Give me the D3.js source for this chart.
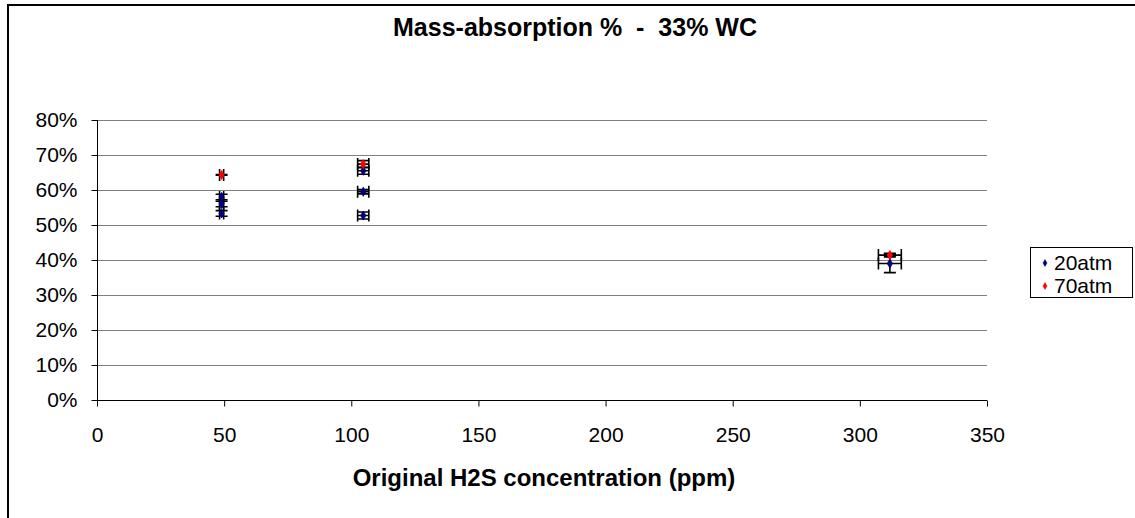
<!DOCTYPE html>
<html>
<head>
<meta charset="utf-8">
<script src="https://cdn.jsdelivr.net/npm/d3@7"></script>
<style>
  html, body { margin: 0; padding: 0; background: #fff; }
  svg { display: block; font-family: "Liberation Sans", Arial, sans-serif; }
</style>
</head>
<body>
<svg id="chart" width="1135" height="518"></svg>
<script>
// ---- data ----
const seriesNames = ["20atm", "70atm"];
const seriesColors = ["#000080", "#FF0000"];

const x20 = [49, 49, 49, 104.7, 104.7, 104.7, 311.8];
const y20 = [58.0, 56.0, 53.3, 65.5, 59.5, 52.7, 39.0];
const xErr20 = [0.8, 0.8, 0.8, 2.2, 2.2, 2.2, 4.5];
const yErr20 = [0.8, 0.8, 0.8, 1.0, 0.6, 1.0, 2.6];

const x70 = [49, 104.7, 311.8];
const y70 = [64.3, 67.4, 41.4];
const xErr70 = [0.8, 2.2, 4.5];
const yErr70 = [0.1, 1.0, 0.5];

const xTicks = [0, 50, 100, 150, 200, 250, 300, 350];
const yTicks = [0, 10, 20, 30, 40, 50, 60, 70, 80];

const titleText = "Mass-absorption %  -  33% WC";
const xLabelText = "Original H2S concentration (ppm)";

// ---- layout ----
const svg = d3.select("#chart");
const plot = { left: 97, right: 987, top: 120, bottom: 400 };

const x = d3.scaleLinear().domain([0, 350]).range([plot.left, plot.right]);
const y = d3.scaleLinear().domain([0, 80]).range([plot.bottom, plot.top]);

// outer frame (extends beyond the image on right & bottom)
svg.append("rect")
  .attr("x", 8).attr("y", 5).attr("width", 1400).attr("height", 800)
  .attr("fill", "#fff").attr("stroke", "#000").attr("stroke-width", 2);

// title
svg.append("text")
  .attr("x", 575).attr("y", 36)
  .attr("text-anchor", "middle")
  .attr("font-size", 25).attr("font-weight", "bold")
  .style("white-space", "pre")
  .text(titleText);

// gridlines
svg.append("g").selectAll("line")
  .data(yTicks.filter(d => d > 0))
  .join("line")
  .attr("x1", plot.left).attr("x2", plot.right)
  .attr("y1", d => Math.round(y(d)) + 0.5).attr("y2", d => Math.round(y(d)) + 0.5)
  .attr("stroke", "#808080").attr("stroke-width", 1);

// axes
const yAxis = d3.axisLeft(y).tickValues(yTicks).tickFormat(d => d + "%").tickSize(6).tickPadding(14);
const gy = svg.append("g").attr("transform", `translate(${plot.left + 0.5},0)`).call(yAxis);
gy.select(".domain").attr("stroke", "#000").attr("d", `M0,${plot.top}V${plot.bottom}`);
gy.selectAll(".tick line").attr("stroke", "#000");
gy.selectAll("text").attr("font-size", 21).attr("fill", "#000").attr("font-family", "Liberation Sans, Arial, sans-serif");

const xAxis = d3.axisBottom(x).tickValues(xTicks).tickSize(6).tickPadding(21);
const gx = svg.append("g").attr("transform", `translate(0,${plot.bottom + 0.5})`).call(xAxis);
gx.select(".domain").attr("stroke", "#000").attr("d", `M${plot.left},0H${plot.right}`);
gx.selectAll(".tick line").attr("stroke", "#000");
gx.selectAll("text").attr("font-size", 21).attr("fill", "#000").attr("font-family", "Liberation Sans, Arial, sans-serif");

// x axis label
svg.append("text")
  .attr("x", 544).attr("y", 486)
  .attr("text-anchor", "middle")
  .attr("font-size", 24).attr("font-weight", "bold")
  .text(xLabelText);

// ---- data series ----
const series = [
  { name: seriesNames[0], color: seriesColors[0], xs: x20, ys: y20, ex: xErr20, ey: yErr20 },
  { name: seriesNames[1], color: seriesColors[1], xs: x70, ys: y70, ex: xErr70, ey: yErr70 }
];
const cap = 6;
const errG = svg.append("g").attr("stroke", "#000").attr("stroke-width", 1.6).attr("fill", "none");
series.forEach(s => {
  s.xs.forEach((xv, i) => {
    const cx = x(xv), cy = y(s.ys[i]);
    const yl = y(s.ys[i] - s.ey[i]), yh = y(s.ys[i] + s.ey[i]);
    const xl = x(xv - s.ex[i]), xh = x(xv + s.ex[i]);
    errG.append("path").attr("d",
      `M${cx},${yl}V${yh}M${cx - cap},${yl}H${cx + cap}M${cx - cap},${yh}H${cx + cap}`);
    errG.append("path").attr("d",
      `M${xl},${cy}H${xh}M${xl},${cy - cap}V${cy + cap}M${xh},${cy - cap}V${cy + cap}`);
  });
});
const diamond = d3.symbol().type(d3.symbolDiamond).size(24);
series.forEach(s => {
  svg.append("g").selectAll("path")
    .data(s.xs.map((xv, i) => [xv, s.ys[i]]))
    .join("path")
    .attr("d", diamond)
    .attr("transform", d => `translate(${x(d[0])},${y(d[1])})`)
    .attr("fill", s.color).attr("stroke", s.color).attr("stroke-width", 0.8);
});

// ---- legend ----
const lg = svg.append("g");
lg.append("rect").attr("x", 1030.5).attr("y", 247.5).attr("width", 102).attr("height", 50)
  .attr("fill", "#fff").attr("stroke", "#000").attr("stroke-width", 1);
const lItems = lg.selectAll("g.item").data(series).join("g").attr("class", "item")
  .attr("transform", (d, i) => `translate(1045,${263 + i * 23})`);
lItems.append("path").attr("d", d3.symbol().type(d3.symbolDiamond).size(14))
  .attr("fill", d => d.color).attr("stroke", d => d.color).attr("stroke-width", 0.5);
lItems.append("text").attr("x", 9).attr("y", 7).attr("font-size", 21)
  .text(d => d.name);
</script>
</body>
</html>
